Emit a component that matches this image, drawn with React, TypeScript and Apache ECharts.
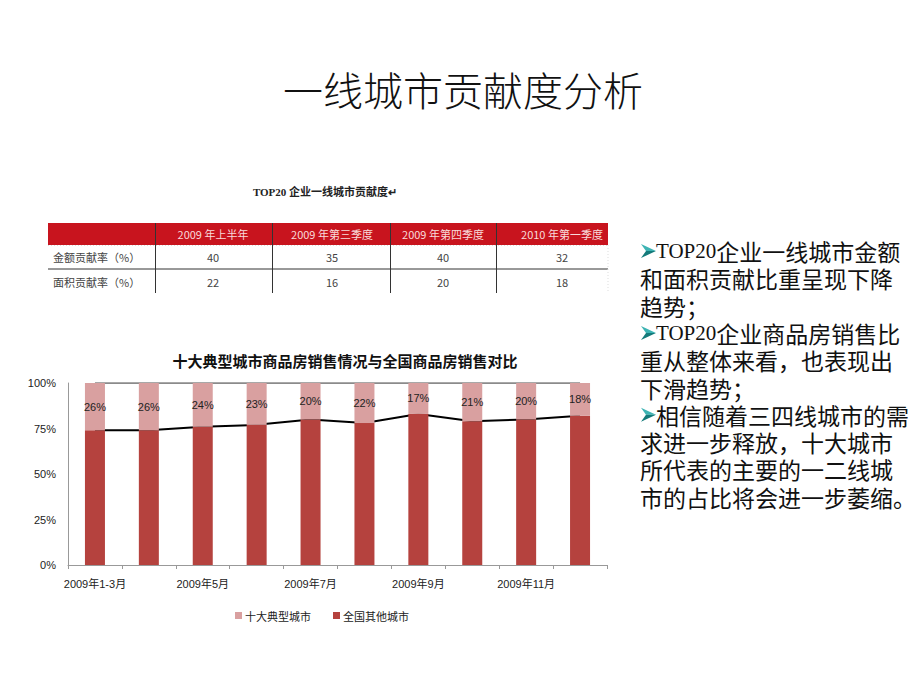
import React, { useEffect, useRef } from "react";
import * as echarts from "echarts";

// ---- chart data ----
const categories = [
  "2009年1-3月", "2009年4月", "2009年5月", "2009年6月", "2009年7月",
  "2009年8月", "2009年9月", "2009年10月", "2009年11月", "2009年12月",
];
const topTenCities = [26, 26, 24, 23, 20, 22, 17, 21, 20, 18];
const otherCities = [74, 74, 76, 77, 80, 78, 83, 79, 80, 82];
const yTicks = [0, 25, 50, 75, 100];

// ---- table data ----
const tableHeaders = ["2009 年上半年", "2009 年第三季度", "2009 年第四季度", "2010 年第一季度"];
const tableRowLabels = ["金额贡献率（%）", "面积贡献率（%）"];
const amountRate = [40, 35, 40, 32];
const areaRate = [22, 16, 20, 18];

// ---- side text ----
const sideLines: { arrow: boolean; latin?: string; text: string }[] = [
  { arrow: true, latin: "TOP20", text: "企业一线城市金额" },
  { arrow: false, text: "和面积贡献比重呈现下降" },
  { arrow: false, text: "趋势；" },
  { arrow: true, latin: "TOP20", text: "企业商品房销售比" },
  { arrow: false, text: "重从整体来看，也表现出" },
  { arrow: false, text: "下滑趋势；" },
  { arrow: true, text: "相信随着三四线城市的需" },
  { arrow: false, text: "求进一步释放，十大城市" },
  { arrow: false, text: "所代表的主要的一二线城" },
  { arrow: false, text: "市的占比将会进一步萎缩。" },
];

const CJK = "'Noto Sans CJK SC', sans-serif";
const SERIF_CJK = "'Liberation Serif', 'Noto Sans CJK SC', serif";

function txt(text: string, x: number, y: number, size: number, fill: string, align = "left", weight = "normal", family = CJK): any {
  return {
    type: "text",
    style: {
      text, x, y, fill,
      font: `${weight} ${size}px ${family}`,
      textAlign: align, align,
      textVerticalAlign: "middle", verticalAlign: "middle",
    },
  };
}

function buildGraphics(): any[] {
  const g: any[] = [];
  // table
  const tLeft = 48, tRight = 608, hTop = 223, hBot = 245, r1Bot = 269, tBot = 293;
  const colBounds = [155, 272, 390, 496];
  const colCenters = [213, 332, 443, 562];
  g.push({ type: "rect", shape: { x: tLeft, y: hTop, width: tRight - tLeft, height: hBot - hTop }, style: { fill: "#C8141E" } });
  g.push({ type: "line", shape: { x1: tLeft, y1: r1Bot, x2: tRight, y2: r1Bot }, style: { stroke: "#333", lineWidth: 1 } });
  g.push({ type: "line", shape: { x1: tLeft, y1: hBot + 0.5, x2: tRight, y2: hBot + 0.5 }, style: { stroke: "#ddd", lineWidth: 1, lineDash: [1, 2] } });
  g.push({ type: "line", shape: { x1: tRight, y1: hBot, x2: tRight, y2: tBot }, style: { stroke: "#ddd", lineWidth: 1, lineDash: [1, 2] } });
  colBounds.forEach((x) => {
    g.push({ type: "line", shape: { x1: x + 0.5, y1: hTop, x2: x + 0.5, y2: tBot }, style: { stroke: "#333", lineWidth: 1 } });
  });
  tableHeaders.forEach((h, i) => g.push(txt(h, colCenters[i], 234, 11, "#F8DADA", "center")));
  g.push(txt(tableRowLabels[0], 53, 257, 11, "#444"));
  g.push(txt(tableRowLabels[1], 53, 282, 11, "#444"));
  amountRate.forEach((v, i) => g.push(txt(String(v), colCenters[i], 257, 11, "#444", "center")));
  areaRate.forEach((v, i) => g.push(txt(String(v), colCenters[i], 282, 11, "#444", "center")));

  // side text
  const y0 = 251, step = 27.3, fs = 23;
  sideLines.forEach((ln, i) => {
    const y = y0 + i * step;
    let x = 640;
    if (ln.arrow) {
      g.push({ type: "polygon", shape: { points: [[641, y - 7], [656, y], [646, y]] }, style: { fill: "#3DB3B3" } });
      g.push({ type: "polygon", shape: { points: [[641, y + 7], [656, y], [646, y]] }, style: { fill: "#147A7A" } });
      x = 656;
    }
    const text = (ln.latin ? `{a|${ln.latin}}` : "") + `{b|${ln.text}}`;
    g.push({
      type: "text",
      style: {
        text, x, y, fill: "#111",
        font: `normal ${fs}px ${CJK}`,
        lineHeight: 26,
        textAlign: "left", align: "left",
        textVerticalAlign: "middle", verticalAlign: "middle",
        rich: {
          a: { fontFamily: "'Liberation Serif', serif", fontSize: 21, fill: "#111", lineHeight: 26 },
          b: { fontFamily: CJK, fontSize: fs, fill: "#111", lineHeight: 26 },
        },
      },
    });
  });
  return g;
}

export default function App() {
  const ref = useRef<HTMLDivElement>(null);
  useEffect(() => {
    if (!ref.current) return;
    const chart = echarts.init(ref.current, undefined, { renderer: "svg" });
    const totals = topTenCities.map((v, i) => v + otherCities[i]);
    chart.setOption({
      animation: false,
      backgroundColor: "#fff",
      title: [
        { text: "一线城市贡献度分析", left: 458, top: 64, textAlign: "center", textStyle: { fontSize: 40, fontWeight: 300, color: "#111", fontFamily: CJK } },
        { text: "TOP20 企业一线城市贡献度↵", left: 320, top: 181, textAlign: "center", textStyle: { fontSize: 11, fontWeight: "bold", color: "#222", fontFamily: SERIF_CJK } },
        { text: "十大典型城市商品房销售情况与全国商品房销售对比", left: 340, top: 348, textAlign: "center", textStyle: { fontSize: 15, fontWeight: "bold", color: "#111", fontFamily: CJK } },
      ],
      legend: {
        data: ["十大典型城市", "全国其他城市"],
        left: 230, top: 605, icon: "rect", itemWidth: 7, itemHeight: 7, itemGap: 22,
        textStyle: { fontSize: 11, color: "#222", fontFamily: CJK, padding: [0, 0, 0, -2] },
      },
      grid: { left: 68, right: 313, top: 383, bottom: 125 },
      xAxis: [
        {
          type: "category", data: categories, boundaryGap: true,
          axisLine: { lineStyle: { color: "#999" } },
          axisTick: { show: true, interval: 0, length: 4, lineStyle: { color: "#999" } },
          axisLabel: { interval: 1, margin: 13, fontSize: 11, color: "#222", fontFamily: "'Liberation Sans', 'Noto Sans CJK SC', sans-serif" },
        },
        { type: "category", data: categories, position: "top", show: false },
      ],
      yAxis: {
        type: "value", min: yTicks[0], max: yTicks[yTicks.length - 1], interval: 25,
        axisLine: { show: true, lineStyle: { color: "#999" } },
        axisTick: { show: false },
        splitLine: { show: false },
        axisLabel: { formatter: "{value}%", margin: 12, fontSize: 11, color: "#222", fontFamily: "'Liberation Sans', sans-serif" },
      },
      series: [
        {
          name: "合计", type: "line", data: totals, z: 1, symbol: "none",
          lineStyle: { color: "#666", width: 1.5 }, silent: true,
        },
        {
          name: "趋势", type: "line", data: otherCities, z: 1, symbol: "none",
          lineStyle: { color: "#000", width: 2 }, silent: true,
        },
        {
          name: "全国其他城市", type: "bar", stack: "s", data: otherCities, barWidth: 20, z: 3,
          itemStyle: { color: "#B5423E" },
        },
        {
          name: "十大典型城市", type: "bar", stack: "s", data: topTenCities, barWidth: 20, z: 3,
          itemStyle: { color: "#D9A0A0" },
          label: { show: true, position: "inside", formatter: "{c}%", fontSize: 11, color: "#222", fontFamily: "'Liberation Sans', sans-serif" },
        },
      ],
      graphic: buildGraphics(),
    });
    return () => chart.dispose();
  }, []);
  return <div ref={ref} style={{ position: "absolute", left: 0, top: 0, width: 920, height: 690 }} />;
}
